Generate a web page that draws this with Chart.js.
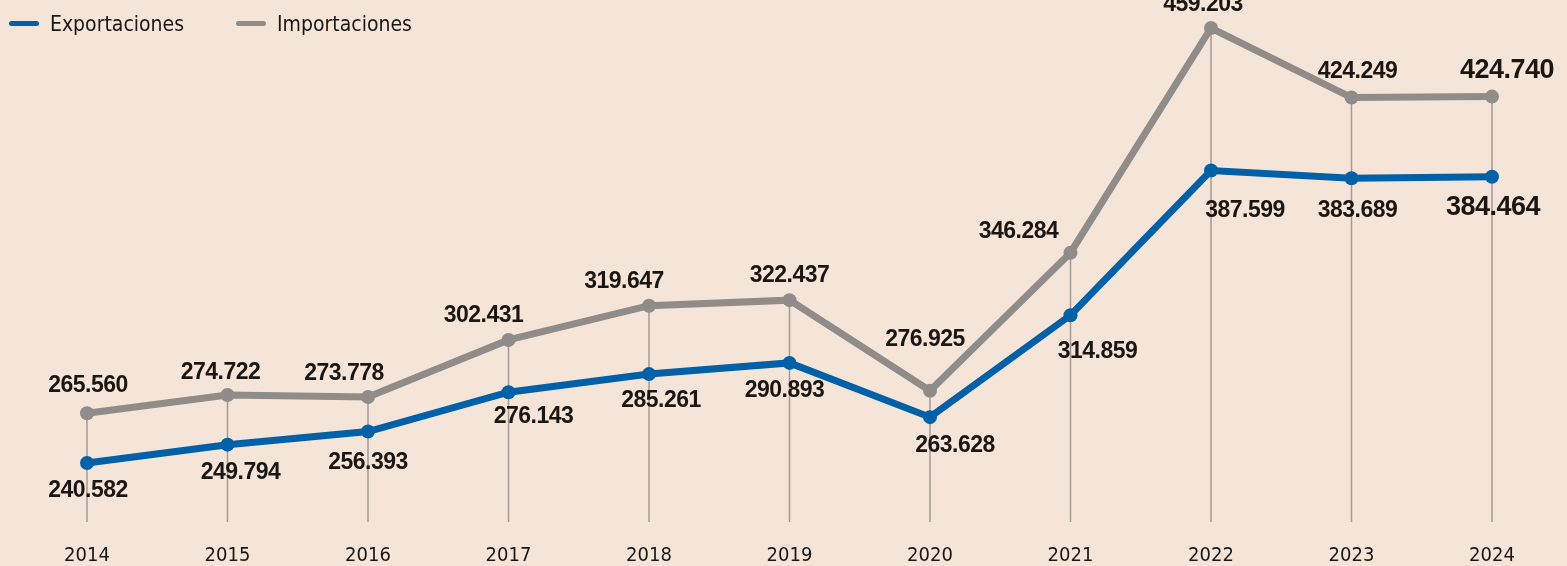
<!DOCTYPE html>
<html>
<head>
<meta charset="utf-8">
<script src="https://cdn.jsdelivr.net/npm/chart.js@4"></script>
<style>
  html, body { margin: 0; padding: 0; background: #f5e5d9; }
  #wrap { position: relative; width: 1567px; height: 566px; }
  .legend { position: absolute; top: 9px; font: 21px "Liberation Sans Narrow", "DejaVu Sans Condensed", sans-serif; color: #1c1612; line-height: 30px; }
  .legend span.key { display: inline-block; width: 30px; height: 5px; border-radius: 3px; vertical-align: middle; margin-right: 11px; position: relative; top: -2px; }
</style>
</head>
<body>
<div id="wrap">
  <canvas id="chart" width="1567" height="566"></canvas>
  <div class="legend" style="left:9px"><span class="key" style="background:#0061a8"></span>Exportaciones</div>
  <div class="legend" style="left:236px"><span class="key" style="background:#8f8c8a"></span>Importaciones</div>
</div>
<script>
// ==================== DATOS ====================
const years = ['2014', '2015', '2016', '2017', '2018', '2019', '2020', '2021', '2022', '2023', '2024'];
const exportaciones = [240.582, 249.794, 256.393, 276.143, 285.261, 290.893, 263.628, 314.859, 387.599, 383.689, 384.464];
const importaciones = [265.560, 274.722, 273.778, 302.431, 319.647, 322.437, 276.925, 346.284, 459.203, 424.249, 424.740];

// desplazamiento de etiquetas (px) respecto al punto
const expLabelOffset = [[1, 28], [13, 28], [0, 31], [25, 24], [12, 27], [-5, 28], [25, 29], [27, 36], [34, 40], [6, 32], [1, 31]];
const impLabelOffset = [[1, -28], [-7, -22], [-24, -23], [-25, -24], [-25, -24], [0, -24], [-5, -51], [-52, -21], [-8, -23], [6, -26], [15, -26]];

const BLUE = '#0061a8';
const GREY = '#8f8c8a';
const TEXT = '#1c1612';

function fmt(v) {
  return v.toFixed(3);
}

// líneas verticales desde el punto más alto hasta la base
const dropLines = {
  id: 'dropLines',
  beforeDatasetsDraw(chart) {
    const ctx = chart.ctx;
    const bottom = chart.chartArea.bottom;
    const metaImp = chart.getDatasetMeta(1);
    const metaExp = chart.getDatasetMeta(0);
    ctx.save();
    ctx.strokeStyle = '#a39a93';
    ctx.lineWidth = 1.5;
    metaImp.data.forEach((pt, i) => {
      const top = Math.min(pt.y, metaExp.data[i].y);
      ctx.beginPath();
      ctx.moveTo(pt.x, top);
      ctx.lineTo(pt.x, bottom);
      ctx.stroke();
    });
    ctx.restore();
  }
};

// etiquetas de valor
const valueLabels = {
  id: 'valueLabels',
  afterDatasetsDraw(chart) {
    const ctx = chart.ctx;
    ctx.save();
    ctx.fillStyle = TEXT;
    ctx.textAlign = 'center';
    ctx.textBaseline = 'middle';
    ctx.letterSpacing = '-0.5px';
    const sets = [[0, exportaciones, expLabelOffset], [1, importaciones, impLabelOffset]];
    sets.forEach(([idx, values, offs]) => {
      const meta = chart.getDatasetMeta(idx);
      meta.data.forEach((pt, i) => {
        const last = i === values.length - 1;
        ctx.font = 'bold ' + (last ? 27 : 23) + 'px "Liberation Sans", Arial, sans-serif';
        ctx.fillText(fmt(values[i]), pt.x + offs[i][0], pt.y + offs[i][1]);
      });
    });
    ctx.restore();
  }
};

const ctx = document.getElementById('chart').getContext('2d');
new Chart(ctx, {
  type: 'line',
  data: {
    labels: years,
    datasets: [
      {
        label: 'Exportaciones',
        data: exportaciones,
        borderColor: BLUE,
        backgroundColor: BLUE,
        borderWidth: 7,
        pointRadius: 7,
        pointHoverRadius: 7,
        pointBorderWidth: 0,
        tension: 0,
        clip: false
      },
      {
        label: 'Importaciones',
        data: importaciones,
        borderColor: GREY,
        backgroundColor: GREY,
        borderWidth: 7,
        pointRadius: 7,
        pointHoverRadius: 7,
        pointBorderWidth: 0,
        tension: 0,
        clip: false
      }
    ]
  },
  options: {
    responsive: false,
    animation: false,
    layout: {
      padding: { left: 87, right: 75, top: 8, bottom: 0 }
    },
    plugins: {
      legend: { display: false },
      tooltip: { enabled: false }
    },
    scales: {
      x: {
        offset: false,
        afterFit(scale) { scale.height = 44; },
        grid: { display: false, drawTicks: false },
        border: { display: false },
        ticks: {
          color: TEXT,
          padding: 24,
          maxRotation: 0,
          autoSkip: false,
          font: { family: '"Liberation Sans Narrow", "DejaVu Sans Condensed", sans-serif', size: 20, lineHeight: 1.0 }
        }
      },
      y: {
        display: false,
        min: 210.93,
        max: 469.26
      }
    }
  },
  plugins: [dropLines, valueLabels]
});
</script>
</body>
</html>
